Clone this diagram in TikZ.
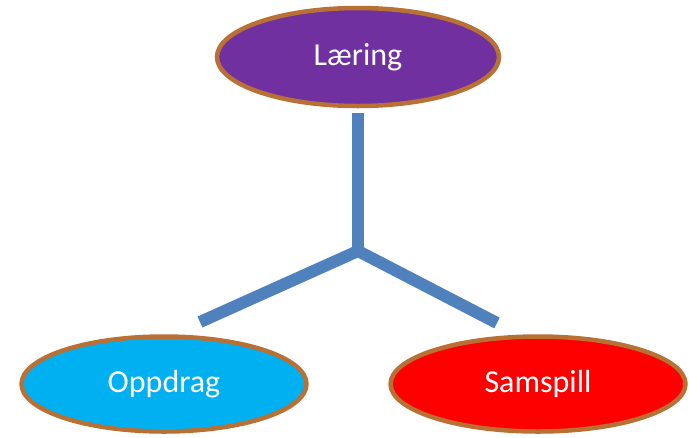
\documentclass[tikz,border=0pt]{standalone}
\usepackage{fontspec}
\setmainfont{Carlito}
\usetikzlibrary{shapes.geometric}
\definecolor{rim}{RGB}{184,112,52}
\definecolor{barblue}{RGB}{79,129,189}
\definecolor{lilla}{RGB}{112,48,160}
\definecolor{cyan}{RGB}{0,176,240}
\definecolor{rod}{RGB}{255,0,0}
\tikzset{
  blob/.style={ellipse, draw=rim, line width=4.5pt, inner sep=0pt,
    text=white, font=\fontsize{32}{38}\selectfont},
  bar/.style={draw=barblue, line width=12pt}
}
\begin{document}
\begin{tikzpicture}[x=1pt,y=-1pt]
  \useasboundingbox (0,0) rectangle (690,437);

  \node[blob, fill=lilla, minimum width=282pt, minimum height=98pt] (laering) at (358,57) {Læring};
  \node[blob, fill=cyan, minimum width=285pt, minimum height=95pt] (oppdrag) at (164,384) {Oppdrag};
  \node[blob, fill=rod, minimum width=295pt, minimum height=95pt] (samspill) at (538,384) {Samspill};

  \coordinate (hub) at (358,251);
  \coordinate (oppEnd) at (200,322);
  \coordinate (samEnd) at (497,323);

  \draw[bar] ([yshift=-5pt]laering.south) -- (hub);
  \draw[bar] (hub) -- (oppEnd);
  \draw[bar] (hub) -- (samEnd);
\end{tikzpicture}
\end{document}
